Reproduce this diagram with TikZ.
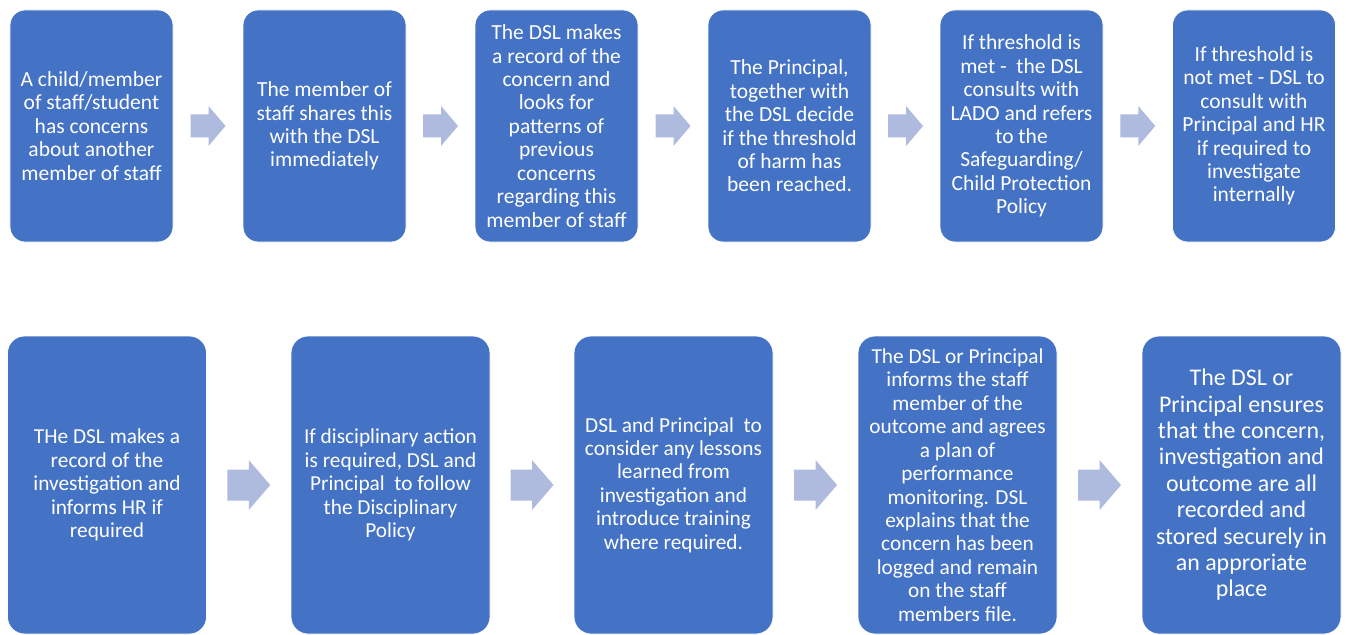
\documentclass[tikz,border=0pt]{standalone}
\usepackage{fontspec}
\setmainfont{Carlito}
\usetikzlibrary{calc}
\definecolor{boxblue}{HTML}{4472C4}
\definecolor{arrowblue}{HTML}{AEBBDF}
\tikzset{
  x=1bp, y=-1bp,
  boxA/.style={rectangle, rounded corners=15bp, fill=boxblue, draw=white, line width=0.8bp,
    minimum width=163bp, minimum height=232bp, inner sep=0pt, text=white, align=center,
    font=\fontsize{21.6}{23.5}\selectfont},
  boxB/.style={rectangle, rounded corners=17bp, fill=boxblue, draw=white, line width=0.8bp,
    minimum width=199bp, minimum height=298bp, inner sep=0pt, text=white, align=center,
    font=\fontsize{21.4}{23.5}\selectfont},
  arrowA/.pic={\fill[arrowblue] (-17.5,-11.5) -- (0.5,-11.5) -- (0.5,-20) -- (17.5,0) -- (0.5,20) -- (0.5,11.5) -- (-17.5,11.5) -- cycle;},
  arrowB/.pic={\fill[arrowblue] (-21.5,-15.5) -- (0,-15.5) -- (0,-25) -- (21.5,0) -- (0,25) -- (0,15.5) -- (-21.5,15.5) -- cycle;}
}
\begin{document}
\begin{tikzpicture}
\path[use as bounding box] (0,0) rectangle (1346,635);
% row 1
\node[boxA] (a1) at (91.5,126) {A child/member\\of staff/student\\has concerns\\about another\\member of staff};
\node[boxA] (a2) at (324.5,126) {The member of\\staff shares this\\with the DSL\\immediately};
\node[boxA] (a3) at (556.5,126) {The DSL makes\\a record of the\\concern and\\looks for\\patterns of\\previous\\concerns\\regarding this\\member of staff};
\node[boxA] (a4) at (789.5,126) {The Principal,\\together with\\the DSL decide\\if the threshold\\of harm has\\been reached.};
\node[boxA] (a5) at (1021.5,126) {If threshold is\\met -\ \ the DSL\\consults with\\LADO and refers\\to the\\Safeguarding/\\Child Protection\\Policy};
\node[boxA] (a6) at (1254,126) {If threshold is\\not met - DSL to\\consult with\\Principal and HR\\if required to\\investigate\\internally};
\foreach \i/\j in {1/2,2/3,3/4,4/5,5/6}
  \path ($(a\i.east)!0.5!(a\j.west)$) pic {arrowA};
% row 2
\node[boxB] (b1) at (107,485) {THe DSL makes a\\record of the\\investigation and\\informs HR if\\required};
\node[boxB] (b2) at (390.5,485) {If disciplinary action\\is required, DSL and\\Principal\ \ to follow\\the Disciplinary\\Policy};
\node[boxB] (b3) at (673.5,485) {DSL and Principal\ \ to\\consider any lessons\\learned from\\investigation and\\introduce training\\where required.};
\node[boxB] (b4) at (957.5,485) {The DSL or Principal\\informs the staff\\member of the\\outcome and agrees\\a plan of\\performance\\monitoring. DSL\\explains that the\\concern has been\\logged and remain\\on the staff\\members file.};
\node[boxB, font=\fontsize{24}{26.5}\selectfont] (b5) at (1241.5,485) {The DSL or\\Principal ensures\\that the concern,\\investigation and\\outcome are all\\recorded and\\stored securely in\\an approriate\\place};
\foreach \i/\j in {1/2,2/3,3/4,4/5}
  \path ($(b\i.east)!0.5!(b\j.west)$) pic {arrowB};
\end{tikzpicture}
\end{document}
